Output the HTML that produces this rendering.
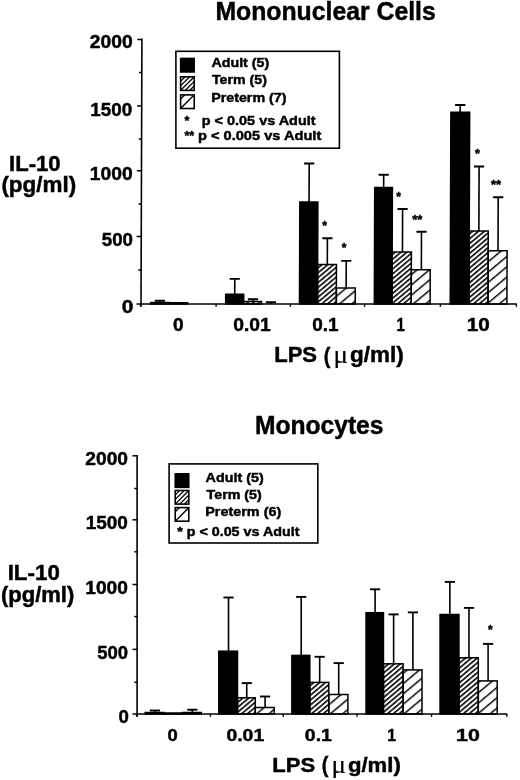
<!DOCTYPE html>
<html><head><meta charset="utf-8"><style>
html,body{margin:0;padding:0;background:#fff;}
svg{display:block;}
</style></head><body>
<svg width="520" height="780" viewBox="0 0 520 780">
<defs><clipPath id="a1"><rect x="180.6" y="76.8" width="13.6" height="13.6"/></clipPath><clipPath id="a2"><rect x="180.6" y="94.9" width="13.6" height="13.6"/></clipPath><clipPath id="b1"><rect x="175.2" y="490.5" width="13.6" height="13.6"/></clipPath><clipPath id="b2"><rect x="175.2" y="507.6" width="13.6" height="13.6"/></clipPath>
<pattern id="hT" patternUnits="userSpaceOnUse" width="6" height="3.75" patternTransform="rotate(-40)"><rect x="0" y="0" width="6" height="1.6" fill="#000"/></pattern>
<pattern id="hP" patternUnits="userSpaceOnUse" width="10" height="7.9" patternTransform="rotate(-40)"><rect x="0" y="0" width="10" height="1.45" fill="#000"/></pattern>
<pattern id="lT" patternUnits="userSpaceOnUse" width="3.6" height="3.6" patternTransform="rotate(-45)"><rect x="0" y="0" width="3.6" height="1.3" fill="#000"/></pattern>
<pattern id="lP" patternUnits="userSpaceOnUse" width="9.5" height="9.5" patternTransform="translate(181,72) rotate(-45)"><rect x="0" y="0" width="9.5" height="1.4" fill="#000"/></pattern>
</defs>
<rect x="0" y="0" width="520" height="780" fill="#fff"/>
<g shape-rendering="auto">
<g transform="matrix(1,0,-0.00340,1,1.0336,0)">
<line x1="141.02" y1="38.60" x2="141.02" y2="306.80" stroke="#000" stroke-width="1.6"/>
<line x1="136.42" y1="39.40" x2="141.02" y2="39.40" stroke="#000" stroke-width="1.5"/>
<line x1="138.22" y1="72.50" x2="141.02" y2="72.50" stroke="#000" stroke-width="1.5"/>
<line x1="136.42" y1="106.00" x2="141.02" y2="106.00" stroke="#000" stroke-width="1.5"/>
<line x1="138.22" y1="139.00" x2="141.02" y2="139.00" stroke="#000" stroke-width="1.5"/>
<line x1="136.42" y1="170.80" x2="141.02" y2="170.80" stroke="#000" stroke-width="1.5"/>
<line x1="138.22" y1="204.00" x2="141.02" y2="204.00" stroke="#000" stroke-width="1.5"/>
<line x1="136.42" y1="236.40" x2="141.02" y2="236.40" stroke="#000" stroke-width="1.5"/>
<line x1="138.22" y1="270.00" x2="141.02" y2="270.00" stroke="#000" stroke-width="1.5"/>
<line x1="136.42" y1="304.00" x2="141.02" y2="304.00" stroke="#000" stroke-width="1.5"/>
<line x1="141.02" y1="304.00" x2="516.90" y2="304.00" stroke="#000" stroke-width="1.6"/>
<line x1="140.50" y1="304.00" x2="140.50" y2="306.80" stroke="#000" stroke-width="1.4"/>
<line x1="216.10" y1="304.00" x2="216.10" y2="306.80" stroke="#000" stroke-width="1.4"/>
<line x1="290.40" y1="304.00" x2="290.40" y2="306.80" stroke="#000" stroke-width="1.4"/>
<line x1="364.60" y1="304.00" x2="364.60" y2="306.80" stroke="#000" stroke-width="1.4"/>
<line x1="440.40" y1="304.00" x2="440.40" y2="306.80" stroke="#000" stroke-width="1.4"/>
<line x1="516.40" y1="304.00" x2="516.40" y2="306.80" stroke="#000" stroke-width="1.4"/>
<line x1="159.84" y1="300.80" x2="159.84" y2="302.60" stroke="#000" stroke-width="1.6"/>
<line x1="154.74" y1="300.80" x2="164.94" y2="300.80" stroke="#000" stroke-width="1.9"/>
<rect x="150.62" y="302.60" width="18.50" height="1.40" fill="#000" stroke="#000" stroke-width="1.5"/>
<rect x="169.12" y="302.80" width="18.50" height="1.20" fill="url(#hT)" stroke="#000" stroke-width="1.5"/>
<rect x="187.62" y="304.00" width="18.90" height="0.00" fill="url(#hP)" stroke="#000" stroke-width="1.5"/>
<line x1="234.71" y1="278.90" x2="234.71" y2="294.30" stroke="#000" stroke-width="1.6"/>
<line x1="229.61" y1="278.90" x2="239.81" y2="278.90" stroke="#000" stroke-width="1.9"/>
<rect x="225.67" y="294.30" width="18.00" height="9.70" fill="#000" stroke="#000" stroke-width="1.5"/>
<line x1="252.98" y1="299.30" x2="252.98" y2="301.40" stroke="#000" stroke-width="1.6"/>
<line x1="247.88" y1="299.30" x2="258.08" y2="299.30" stroke="#000" stroke-width="1.9"/>
<rect x="243.67" y="301.40" width="17.90" height="2.60" fill="url(#hT)" stroke="#000" stroke-width="1.5"/>
<line x1="270.89" y1="302.30" x2="270.89" y2="304.00" stroke="#000" stroke-width="1.6"/>
<line x1="265.79" y1="302.30" x2="275.99" y2="302.30" stroke="#000" stroke-width="1.9"/>
<rect x="261.57" y="304.00" width="18.90" height="0.00" fill="url(#hP)" stroke="#000" stroke-width="1.5"/>
<line x1="308.72" y1="163.50" x2="308.72" y2="201.90" stroke="#000" stroke-width="1.6"/>
<line x1="303.62" y1="163.50" x2="313.82" y2="163.50" stroke="#000" stroke-width="1.9"/>
<rect x="299.47" y="201.90" width="18.05" height="102.10" fill="#000" stroke="#000" stroke-width="1.5"/>
<line x1="327.18" y1="238.20" x2="327.18" y2="264.60" stroke="#000" stroke-width="1.6"/>
<line x1="322.08" y1="238.20" x2="332.28" y2="238.20" stroke="#000" stroke-width="1.9"/>
<rect x="317.52" y="264.60" width="18.80" height="39.40" fill="url(#hT)" stroke="#000" stroke-width="1.5"/>
<line x1="346.10" y1="260.90" x2="346.10" y2="288.00" stroke="#000" stroke-width="1.6"/>
<line x1="341.00" y1="260.90" x2="351.20" y2="260.90" stroke="#000" stroke-width="1.9"/>
<rect x="336.32" y="288.00" width="18.90" height="16.00" fill="url(#hP)" stroke="#000" stroke-width="1.5"/>
<line x1="383.26" y1="174.80" x2="383.26" y2="187.50" stroke="#000" stroke-width="1.6"/>
<line x1="378.16" y1="174.80" x2="388.36" y2="174.80" stroke="#000" stroke-width="1.9"/>
<rect x="374.32" y="187.50" width="17.70" height="116.50" fill="#000" stroke="#000" stroke-width="1.5"/>
<line x1="402.28" y1="209.00" x2="402.28" y2="251.90" stroke="#000" stroke-width="1.6"/>
<line x1="397.18" y1="209.00" x2="407.38" y2="209.00" stroke="#000" stroke-width="1.9"/>
<rect x="392.02" y="251.90" width="19.20" height="52.10" fill="url(#hT)" stroke="#000" stroke-width="1.5"/>
<line x1="421.25" y1="231.70" x2="421.25" y2="269.80" stroke="#000" stroke-width="1.6"/>
<line x1="416.15" y1="231.70" x2="426.35" y2="231.70" stroke="#000" stroke-width="1.9"/>
<rect x="411.22" y="269.80" width="18.90" height="34.20" fill="url(#hP)" stroke="#000" stroke-width="1.5"/>
<line x1="459.52" y1="105.00" x2="459.52" y2="112.30" stroke="#000" stroke-width="1.6"/>
<line x1="454.42" y1="105.00" x2="464.62" y2="105.00" stroke="#000" stroke-width="1.9"/>
<rect x="450.22" y="112.30" width="18.80" height="191.70" fill="#000" stroke="#000" stroke-width="1.5"/>
<line x1="478.63" y1="166.50" x2="478.63" y2="231.00" stroke="#000" stroke-width="1.6"/>
<line x1="473.53" y1="166.50" x2="483.73" y2="166.50" stroke="#000" stroke-width="1.9"/>
<rect x="469.02" y="231.00" width="19.00" height="73.00" fill="url(#hT)" stroke="#000" stroke-width="1.5"/>
<line x1="497.84" y1="197.20" x2="497.84" y2="250.70" stroke="#000" stroke-width="1.6"/>
<line x1="492.74" y1="197.20" x2="502.94" y2="197.20" stroke="#000" stroke-width="1.9"/>
<rect x="488.02" y="250.70" width="18.90" height="53.30" fill="url(#hP)" stroke="#000" stroke-width="1.5"/>
</g>
<g transform="matrix(1,0,-0.00000,1,0.0000,0)">
<line x1="137.10" y1="455.00" x2="137.10" y2="716.80" stroke="#000" stroke-width="1.6"/>
<line x1="132.50" y1="455.80" x2="137.10" y2="455.80" stroke="#000" stroke-width="1.5"/>
<line x1="134.30" y1="488.50" x2="137.10" y2="488.50" stroke="#000" stroke-width="1.5"/>
<line x1="132.50" y1="519.80" x2="137.10" y2="519.80" stroke="#000" stroke-width="1.5"/>
<line x1="134.30" y1="551.80" x2="137.10" y2="551.80" stroke="#000" stroke-width="1.5"/>
<line x1="132.50" y1="584.50" x2="137.10" y2="584.50" stroke="#000" stroke-width="1.5"/>
<line x1="134.30" y1="616.60" x2="137.10" y2="616.60" stroke="#000" stroke-width="1.5"/>
<line x1="132.50" y1="649.40" x2="137.10" y2="649.40" stroke="#000" stroke-width="1.5"/>
<line x1="134.30" y1="682.30" x2="137.10" y2="682.30" stroke="#000" stroke-width="1.5"/>
<line x1="132.50" y1="714.00" x2="137.10" y2="714.00" stroke="#000" stroke-width="1.5"/>
<line x1="137.10" y1="714.00" x2="507.20" y2="714.00" stroke="#000" stroke-width="1.6"/>
<line x1="137.00" y1="714.00" x2="137.00" y2="716.80" stroke="#000" stroke-width="1.4"/>
<line x1="210.40" y1="714.00" x2="210.40" y2="716.80" stroke="#000" stroke-width="1.4"/>
<line x1="283.30" y1="714.00" x2="283.30" y2="716.80" stroke="#000" stroke-width="1.4"/>
<line x1="357.00" y1="714.00" x2="357.00" y2="716.80" stroke="#000" stroke-width="1.4"/>
<line x1="431.50" y1="714.00" x2="431.50" y2="716.80" stroke="#000" stroke-width="1.4"/>
<line x1="506.80" y1="714.00" x2="506.80" y2="716.80" stroke="#000" stroke-width="1.4"/>
<line x1="154.90" y1="710.50" x2="154.90" y2="712.50" stroke="#000" stroke-width="1.6"/>
<line x1="149.80" y1="710.50" x2="160.00" y2="710.50" stroke="#000" stroke-width="1.9"/>
<rect x="145.20" y="712.50" width="18.70" height="1.50" fill="#000" stroke="#000" stroke-width="1.5"/>
<rect x="163.90" y="713.00" width="18.70" height="1.00" fill="url(#hT)" stroke="#000" stroke-width="1.5"/>
<line x1="192.30" y1="709.70" x2="192.30" y2="712.50" stroke="#000" stroke-width="1.6"/>
<line x1="187.20" y1="709.70" x2="197.40" y2="709.70" stroke="#000" stroke-width="1.9"/>
<rect x="182.60" y="712.50" width="18.70" height="1.50" fill="url(#hP)" stroke="#000" stroke-width="1.5"/>
<line x1="228.50" y1="597.50" x2="228.50" y2="651.20" stroke="#000" stroke-width="1.6"/>
<line x1="223.40" y1="597.50" x2="233.60" y2="597.50" stroke="#000" stroke-width="1.9"/>
<rect x="218.80" y="651.20" width="18.70" height="62.80" fill="#000" stroke="#000" stroke-width="1.5"/>
<line x1="246.75" y1="683.10" x2="246.75" y2="697.80" stroke="#000" stroke-width="1.6"/>
<line x1="241.65" y1="683.10" x2="251.85" y2="683.10" stroke="#000" stroke-width="1.9"/>
<rect x="237.50" y="697.80" width="17.80" height="16.20" fill="url(#hT)" stroke="#000" stroke-width="1.5"/>
<line x1="265.10" y1="696.50" x2="265.10" y2="707.50" stroke="#000" stroke-width="1.6"/>
<line x1="260.00" y1="696.50" x2="270.20" y2="696.50" stroke="#000" stroke-width="1.9"/>
<rect x="255.30" y="707.50" width="18.90" height="6.50" fill="url(#hP)" stroke="#000" stroke-width="1.5"/>
<line x1="301.20" y1="596.90" x2="301.20" y2="655.40" stroke="#000" stroke-width="1.6"/>
<line x1="296.10" y1="596.90" x2="306.30" y2="596.90" stroke="#000" stroke-width="1.9"/>
<rect x="291.85" y="655.40" width="18.00" height="58.60" fill="#000" stroke="#000" stroke-width="1.5"/>
<line x1="319.68" y1="656.80" x2="319.68" y2="682.40" stroke="#000" stroke-width="1.6"/>
<line x1="314.58" y1="656.80" x2="324.78" y2="656.80" stroke="#000" stroke-width="1.9"/>
<rect x="309.85" y="682.40" width="18.95" height="31.60" fill="url(#hT)" stroke="#000" stroke-width="1.5"/>
<line x1="338.70" y1="663.10" x2="338.70" y2="694.50" stroke="#000" stroke-width="1.6"/>
<line x1="333.60" y1="663.10" x2="343.80" y2="663.10" stroke="#000" stroke-width="1.9"/>
<rect x="328.80" y="694.50" width="19.10" height="19.50" fill="url(#hP)" stroke="#000" stroke-width="1.5"/>
<line x1="375.10" y1="589.30" x2="375.10" y2="612.70" stroke="#000" stroke-width="1.6"/>
<line x1="370.00" y1="589.30" x2="380.20" y2="589.30" stroke="#000" stroke-width="1.9"/>
<rect x="366.05" y="612.70" width="17.40" height="101.30" fill="#000" stroke="#000" stroke-width="1.5"/>
<line x1="393.62" y1="614.40" x2="393.62" y2="663.80" stroke="#000" stroke-width="1.6"/>
<line x1="388.52" y1="614.40" x2="398.73" y2="614.40" stroke="#000" stroke-width="1.9"/>
<rect x="383.45" y="663.80" width="19.65" height="50.20" fill="url(#hT)" stroke="#000" stroke-width="1.5"/>
<line x1="412.90" y1="612.40" x2="412.90" y2="669.90" stroke="#000" stroke-width="1.6"/>
<line x1="407.80" y1="612.40" x2="418.00" y2="612.40" stroke="#000" stroke-width="1.9"/>
<rect x="403.10" y="669.90" width="18.90" height="44.10" fill="url(#hP)" stroke="#000" stroke-width="1.5"/>
<line x1="449.85" y1="581.90" x2="449.85" y2="614.50" stroke="#000" stroke-width="1.6"/>
<line x1="444.75" y1="581.90" x2="454.95" y2="581.90" stroke="#000" stroke-width="1.9"/>
<rect x="440.05" y="614.50" width="18.90" height="99.50" fill="#000" stroke="#000" stroke-width="1.5"/>
<line x1="468.98" y1="607.90" x2="468.98" y2="657.80" stroke="#000" stroke-width="1.6"/>
<line x1="463.88" y1="607.90" x2="474.08" y2="607.90" stroke="#000" stroke-width="1.9"/>
<rect x="458.95" y="657.80" width="19.35" height="56.20" fill="url(#hT)" stroke="#000" stroke-width="1.5"/>
<line x1="488.10" y1="643.90" x2="488.10" y2="680.90" stroke="#000" stroke-width="1.6"/>
<line x1="483.00" y1="643.90" x2="493.20" y2="643.90" stroke="#000" stroke-width="1.9"/>
<rect x="478.30" y="680.90" width="18.90" height="33.10" fill="url(#hP)" stroke="#000" stroke-width="1.5"/>
</g>
<rect x="175.9" y="51.3" width="163.50" height="96.90" fill="none" stroke="#000" stroke-width="1.6"/>
<rect x="180.6" y="58.4" width="13.6" height="13.6" fill="#000" stroke="#000" stroke-width="1.5"/>
<g clip-path="url(#a1)"><line x1="169.40" y1="92.40" x2="187.00" y2="74.80" stroke="#000" stroke-width="1.3"/><line x1="174.00" y1="92.40" x2="191.60" y2="74.80" stroke="#000" stroke-width="1.3"/><line x1="178.60" y1="92.40" x2="196.20" y2="74.80" stroke="#000" stroke-width="1.3"/><line x1="183.20" y1="92.40" x2="200.80" y2="74.80" stroke="#000" stroke-width="1.3"/><line x1="187.80" y1="92.40" x2="205.40" y2="74.80" stroke="#000" stroke-width="1.3"/></g>
<rect x="180.6" y="76.8" width="13.6" height="13.6" fill="none" stroke="#000" stroke-width="1.6"/>
<g clip-path="url(#a2)"><line x1="169.10" y1="110.50" x2="186.70" y2="92.90" stroke="#000" stroke-width="1.4"/><line x1="178.60" y1="110.50" x2="196.20" y2="92.90" stroke="#000" stroke-width="1.4"/></g>
<rect x="180.6" y="94.9" width="13.6" height="13.6" fill="none" stroke="#000" stroke-width="1.6"/>
<rect x="169.1" y="463.9" width="148.70" height="79.10" fill="none" stroke="#000" stroke-width="1.6"/>
<rect x="175.2" y="473.8" width="13.6" height="13.6" fill="#000" stroke="#000" stroke-width="1.5"/>
<g clip-path="url(#b1)"><line x1="164.00" y1="506.10" x2="181.60" y2="488.50" stroke="#000" stroke-width="1.3"/><line x1="168.60" y1="506.10" x2="186.20" y2="488.50" stroke="#000" stroke-width="1.3"/><line x1="173.20" y1="506.10" x2="190.80" y2="488.50" stroke="#000" stroke-width="1.3"/><line x1="177.80" y1="506.10" x2="195.40" y2="488.50" stroke="#000" stroke-width="1.3"/><line x1="182.40" y1="506.10" x2="200.00" y2="488.50" stroke="#000" stroke-width="1.3"/></g>
<rect x="175.2" y="490.5" width="13.6" height="13.6" fill="none" stroke="#000" stroke-width="1.6"/>
<g clip-path="url(#b2)"><line x1="163.70" y1="523.20" x2="181.30" y2="505.60" stroke="#000" stroke-width="1.4"/><line x1="173.20" y1="523.20" x2="190.80" y2="505.60" stroke="#000" stroke-width="1.4"/></g>
<rect x="175.2" y="507.6" width="13.6" height="13.6" fill="none" stroke="#000" stroke-width="1.6"/>
</g>
<g fill="#000">
<text x="215.41" y="19.60" font-family="'Liberation Sans'" font-weight="bold" font-size="25.4" textLength="220.37" lengthAdjust="spacingAndGlyphs" stroke="#000" stroke-width="0.45">Mononuclear Cells</text>
<text x="9.09" y="170.70" font-family="'Liberation Sans'" font-weight="bold" font-size="22.6" textLength="51.55" lengthAdjust="spacingAndGlyphs" stroke="#000" stroke-width="0.45">IL-10</text>
<text x="1.40" y="192.30" font-family="'Liberation Sans'" font-weight="bold" font-size="21.8" textLength="74.84" lengthAdjust="spacingAndGlyphs" stroke="#000" stroke-width="0.45">(pg/ml)</text>
<text x="89.75" y="48.00" font-family="'Liberation Sans'" font-weight="bold" font-size="18.7" textLength="42.89" lengthAdjust="spacingAndGlyphs" stroke="#000" stroke-width="0.45">2000</text>
<text x="90.30" y="115.60" font-family="'Liberation Sans'" font-weight="bold" font-size="18.7" textLength="41.92" lengthAdjust="spacingAndGlyphs" stroke="#000" stroke-width="0.45">1500</text>
<text x="89.77" y="180.00" font-family="'Liberation Sans'" font-weight="bold" font-size="18.7" textLength="42.87" lengthAdjust="spacingAndGlyphs" stroke="#000" stroke-width="0.45">1000</text>
<text x="101.76" y="245.60" font-family="'Liberation Sans'" font-weight="bold" font-size="18.7" textLength="31.23" lengthAdjust="spacingAndGlyphs" stroke="#000" stroke-width="0.45">500</text>
<text x="121.89" y="312.60" font-family="'Liberation Sans'" font-weight="bold" font-size="18.7" textLength="11.65" lengthAdjust="spacingAndGlyphs" stroke="#000" stroke-width="0.45">0</text>
<text x="172.96" y="330.70" font-family="'Liberation Sans'" font-weight="bold" font-size="17.8" textLength="10.60" lengthAdjust="spacingAndGlyphs" stroke="#000" stroke-width="0.45">0</text>
<text x="233.25" y="330.70" font-family="'Liberation Sans'" font-weight="bold" font-size="17.8" textLength="37.53" lengthAdjust="spacingAndGlyphs" stroke="#000" stroke-width="0.45">0.01</text>
<text x="312.27" y="330.70" font-family="'Liberation Sans'" font-weight="bold" font-size="17.8" textLength="26.28" lengthAdjust="spacingAndGlyphs" stroke="#000" stroke-width="0.45">0.1</text>
<text x="396.55" y="330.70" font-family="'Liberation Sans'" font-weight="bold" font-size="17.8" textLength="8.31" lengthAdjust="spacingAndGlyphs" stroke="#000" stroke-width="0.45">1</text>
<text x="466.68" y="330.70" font-family="'Liberation Sans'" font-weight="bold" font-size="17.8" textLength="22.97" lengthAdjust="spacingAndGlyphs" stroke="#000" stroke-width="0.45">10</text>
<text x="274.19" y="362.20" font-family="'Liberation Sans'" font-weight="bold" font-size="21.4" textLength="42.86" lengthAdjust="spacingAndGlyphs" stroke="#000" stroke-width="0.45">LPS</text>
<text x="323.63" y="362.60" font-family="'Liberation Sans'" font-weight="bold" font-size="22.5" textLength="6.60" lengthAdjust="spacingAndGlyphs" stroke="#000" stroke-width="0.45">(</text>
<text x="333.54" y="362.90" font-family="'Liberation Serif'" font-weight="normal" font-size="24.5" textLength="14.47" lengthAdjust="spacingAndGlyphs" stroke="#000" stroke-width="0.2">μ</text>
<text x="349.93" y="362.20" font-family="'Liberation Sans'" font-weight="bold" font-size="21.4" textLength="53.75" lengthAdjust="spacingAndGlyphs" stroke="#000" stroke-width="0.45">g/ml)</text>
<text x="211.47" y="66.70" font-family="'Liberation Sans'" font-weight="bold" font-size="13.5" textLength="57.71" lengthAdjust="spacingAndGlyphs" stroke="#000" stroke-width="0.45">Adult (5)</text>
<text x="211.98" y="84.00" font-family="'Liberation Sans'" font-weight="bold" font-size="13.5" textLength="54.92" lengthAdjust="spacingAndGlyphs" stroke="#000" stroke-width="0.45">Term (5)</text>
<text x="211.20" y="101.80" font-family="'Liberation Sans'" font-weight="bold" font-size="13.5" textLength="75.29" lengthAdjust="spacingAndGlyphs" stroke="#000" stroke-width="0.45">Preterm (7)</text>
<text x="184.46" y="125.30" font-family="'Liberation Sans'" font-weight="bold" font-size="13.5" textLength="4.87" lengthAdjust="spacingAndGlyphs" stroke="#000" stroke-width="0.45">*</text>
<text x="201.79" y="125.30" font-family="'Liberation Sans'" font-weight="bold" font-size="13.5" textLength="113.77" lengthAdjust="spacingAndGlyphs" stroke="#000" stroke-width="0.45">p &lt; 0.05 vs Adult</text>
<text x="184.46" y="140.30" font-family="'Liberation Sans'" font-weight="bold" font-size="13.5" textLength="9.75" lengthAdjust="spacingAndGlyphs" stroke="#000" stroke-width="0.45">**</text>
<text x="197.98" y="140.30" font-family="'Liberation Sans'" font-weight="bold" font-size="13.5" textLength="123.30" lengthAdjust="spacingAndGlyphs" stroke="#000" stroke-width="0.45">p &lt; 0.005 vs Adult</text>
<text x="254.92" y="434.20" font-family="'Liberation Sans'" font-weight="bold" font-size="25.3" textLength="128.61" lengthAdjust="spacingAndGlyphs" stroke="#000" stroke-width="0.45">Monocytes</text>
<text x="7.67" y="579.90" font-family="'Liberation Sans'" font-weight="bold" font-size="22.6" textLength="52.17" lengthAdjust="spacingAndGlyphs" stroke="#000" stroke-width="0.45">IL-10</text>
<text x="0.92" y="601.50" font-family="'Liberation Sans'" font-weight="bold" font-size="21.8" textLength="73.40" lengthAdjust="spacingAndGlyphs" stroke="#000" stroke-width="0.45">(pg/ml)</text>
<text x="85.35" y="464.60" font-family="'Liberation Sans'" font-weight="bold" font-size="18.3" textLength="42.68" lengthAdjust="spacingAndGlyphs" stroke="#000" stroke-width="0.45">2000</text>
<text x="85.69" y="528.70" font-family="'Liberation Sans'" font-weight="bold" font-size="18.3" textLength="42.13" lengthAdjust="spacingAndGlyphs" stroke="#000" stroke-width="0.45">1500</text>
<text x="85.28" y="593.50" font-family="'Liberation Sans'" font-weight="bold" font-size="18.3" textLength="42.55" lengthAdjust="spacingAndGlyphs" stroke="#000" stroke-width="0.45">1000</text>
<text x="97.17" y="659.00" font-family="'Liberation Sans'" font-weight="bold" font-size="18.3" textLength="30.82" lengthAdjust="spacingAndGlyphs" stroke="#000" stroke-width="0.45">500</text>
<text x="118.48" y="722.50" font-family="'Liberation Sans'" font-weight="bold" font-size="18.3" textLength="10.36" lengthAdjust="spacingAndGlyphs" stroke="#000" stroke-width="0.45">0</text>
<text x="167.59" y="740.50" font-family="'Liberation Sans'" font-weight="bold" font-size="17.4" textLength="10.25" lengthAdjust="spacingAndGlyphs" stroke="#000" stroke-width="0.45">0</text>
<text x="226.45" y="740.50" font-family="'Liberation Sans'" font-weight="bold" font-size="17.4" textLength="37.74" lengthAdjust="spacingAndGlyphs" stroke="#000" stroke-width="0.45">0.01</text>
<text x="304.85" y="740.50" font-family="'Liberation Sans'" font-weight="bold" font-size="17.4" textLength="27.01" lengthAdjust="spacingAndGlyphs" stroke="#000" stroke-width="0.45">0.1</text>
<text x="387.20" y="740.50" font-family="'Liberation Sans'" font-weight="bold" font-size="17.4" textLength="8.79" lengthAdjust="spacingAndGlyphs" stroke="#000" stroke-width="0.45">1</text>
<text x="456.14" y="740.50" font-family="'Liberation Sans'" font-weight="bold" font-size="17.4" textLength="23.74" lengthAdjust="spacingAndGlyphs" stroke="#000" stroke-width="0.45">10</text>
<text x="272.29" y="772.00" font-family="'Liberation Sans'" font-weight="bold" font-size="20.8" textLength="42.86" lengthAdjust="spacingAndGlyphs" stroke="#000" stroke-width="0.45">LPS</text>
<text x="321.63" y="772.40" font-family="'Liberation Sans'" font-weight="bold" font-size="22.5" textLength="6.60" lengthAdjust="spacingAndGlyphs" stroke="#000" stroke-width="0.45">(</text>
<text x="331.54" y="772.70" font-family="'Liberation Serif'" font-weight="normal" font-size="24.5" textLength="14.47" lengthAdjust="spacingAndGlyphs" stroke="#000" stroke-width="0.2">μ</text>
<text x="347.94" y="772.00" font-family="'Liberation Sans'" font-weight="bold" font-size="20.8" textLength="52.91" lengthAdjust="spacingAndGlyphs" stroke="#000" stroke-width="0.45">g/ml)</text>
<text x="205.62" y="481.50" font-family="'Liberation Sans'" font-weight="bold" font-size="13.5" textLength="58.12" lengthAdjust="spacingAndGlyphs" stroke="#000" stroke-width="0.45">Adult (5)</text>
<text x="206.58" y="498.50" font-family="'Liberation Sans'" font-weight="bold" font-size="13.5" textLength="55.17" lengthAdjust="spacingAndGlyphs" stroke="#000" stroke-width="0.45">Term (5)</text>
<text x="205.29" y="515.50" font-family="'Liberation Sans'" font-weight="bold" font-size="13.5" textLength="75.95" lengthAdjust="spacingAndGlyphs" stroke="#000" stroke-width="0.45">Preterm (6)</text>
<text x="177.15" y="535.50" font-family="'Liberation Sans'" font-weight="bold" font-size="13.5" textLength="122.33" lengthAdjust="spacingAndGlyphs" stroke="#000" stroke-width="0.45">* p &lt; 0.05 vs Adult</text>
<text x="322.27" y="229.86" font-family="'Liberation Sans'" font-weight="bold" font-size="13" textLength="4.66" lengthAdjust="spacingAndGlyphs" stroke="#000" stroke-width="0.45">*</text>
<text x="341.67" y="251.96" font-family="'Liberation Sans'" font-weight="bold" font-size="13" textLength="4.66" lengthAdjust="spacingAndGlyphs" stroke="#000" stroke-width="0.45">*</text>
<text x="396.17" y="200.56" font-family="'Liberation Sans'" font-weight="bold" font-size="13" textLength="4.66" lengthAdjust="spacingAndGlyphs" stroke="#000" stroke-width="0.45">*</text>
<text x="412.16" y="224.16" font-family="'Liberation Sans'" font-weight="bold" font-size="13" textLength="10.16" lengthAdjust="spacingAndGlyphs" stroke="#000" stroke-width="0.45">**</text>
<text x="474.96" y="157.86" font-family="'Liberation Sans'" font-weight="bold" font-size="13" textLength="4.87" lengthAdjust="spacingAndGlyphs" stroke="#000" stroke-width="0.45">*</text>
<text x="490.96" y="188.76" font-family="'Liberation Sans'" font-weight="bold" font-size="13" textLength="10.06" lengthAdjust="spacingAndGlyphs" stroke="#000" stroke-width="0.45">**</text>
<text x="487.97" y="633.66" font-family="'Liberation Sans'" font-weight="bold" font-size="13" textLength="4.66" lengthAdjust="spacingAndGlyphs" stroke="#000" stroke-width="0.45">*</text>
</g>
</svg>
</body></html>
